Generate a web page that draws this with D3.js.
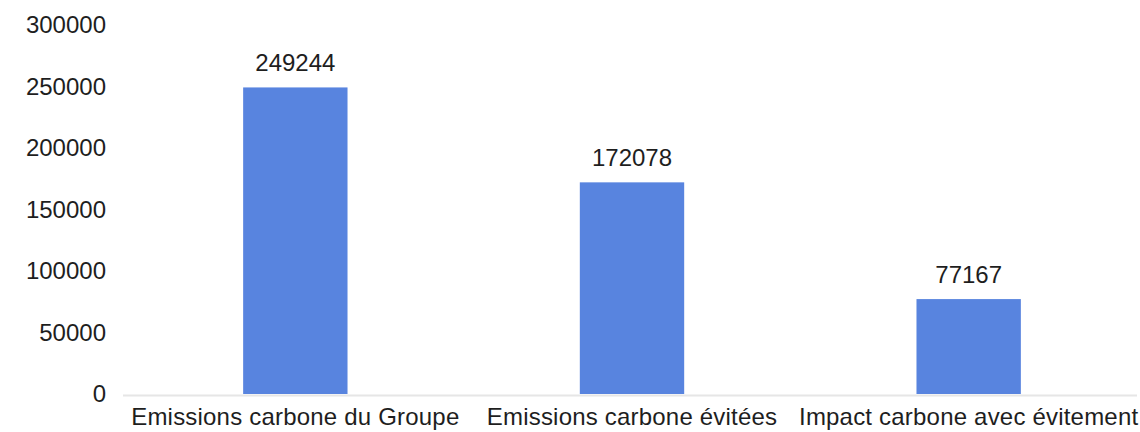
<!DOCTYPE html>
<html>
<head>
<meta charset="utf-8">
<script src="https://cdn.jsdelivr.net/npm/d3@7"></script>
<style>
  html, body { margin: 0; padding: 0; background: #fff; }
  svg { display: block; }
  text { font-family: "Liberation Sans", Arial, sans-serif; fill: #1e1e1e; }
</style>
</head>
<body>
<svg id="chart" width="1140" height="432"></svg>
<script>
// Bilan carbone : émissions, émissions évitées et impact net
const categories = ["Emissions carbone du Groupe", "Emissions carbone évitées", "Impact carbone avec évitement"];
const values = [249244, 172078, 77167];
const yTicks = [0, 50000, 100000, 150000, 200000, 250000, 300000];

const width = 1140, height = 432;
const plot = { left: 127, right: 1137, top: 25, bottom: 394 };
const fontSize = 24;
const barColor = "#5884df";

const svg = d3.select("#chart");

const y = d3.scaleLinear()
  .domain([0, 300000])
  .range([plot.bottom, plot.top]);

const gap = 0.69;
const x = d3.scaleBand()
  .domain(categories)
  .range([plot.left, plot.right])
  .paddingInner(gap)
  .paddingOuter(gap / 2);

// Axe horizontal discret
svg.append("line")
  .attr("x1", plot.left - 4).attr("x2", plot.right)
  .attr("y1", y(0) + 1.5).attr("y2", y(0) + 1.5)
  .attr("stroke", "#e6e6e6")
  .attr("stroke-width", 2);

// Graduations de l'axe vertical (texte seul)
const yAxis = d3.axisLeft(y)
  .tickValues(yTicks)
  .tickFormat(d3.format("d"))
  .tickSize(0)
  .tickPadding(0);

const gy = svg.append("g")
  .attr("transform", `translate(106,0)`)
  .call(yAxis);
gy.select(".domain").remove();
gy.selectAll("text")
  .attr("font-size", fontSize)
  .attr("font-family", null)
  .attr("fill", "#1e1e1e");

// Barres
svg.append("g")
  .selectAll("rect")
  .data(values)
  .join("rect")
  .attr("x", (d, i) => x(categories[i]))
  .attr("width", x.bandwidth())
  .attr("y", d => y(d))
  .attr("height", d => y(0) - y(d))
  .attr("fill", barColor);

// Étiquettes de valeur
svg.append("g")
  .selectAll("text")
  .data(values)
  .join("text")
  .attr("x", (d, i) => x(categories[i]) + x.bandwidth() / 2)
  .attr("y", d => y(d) - 16)
  .attr("text-anchor", "middle")
  .attr("font-size", fontSize)
  .text(d => d);

// Libellés des catégories
const xAxis = d3.axisBottom(x).tickSize(0).tickPadding(0);
const gx = svg.append("g")
  .attr("transform", `translate(0,${plot.bottom})`)
  .call(xAxis);
gx.select(".domain").remove();
gx.selectAll("text")
  .attr("font-size", fontSize)
  .attr("font-family", null)
  .attr("fill", "#1e1e1e")
  .attr("letter-spacing", 0.2)
  .attr("dy", null)
  .attr("y", 31);
</script>
</body>
</html>
